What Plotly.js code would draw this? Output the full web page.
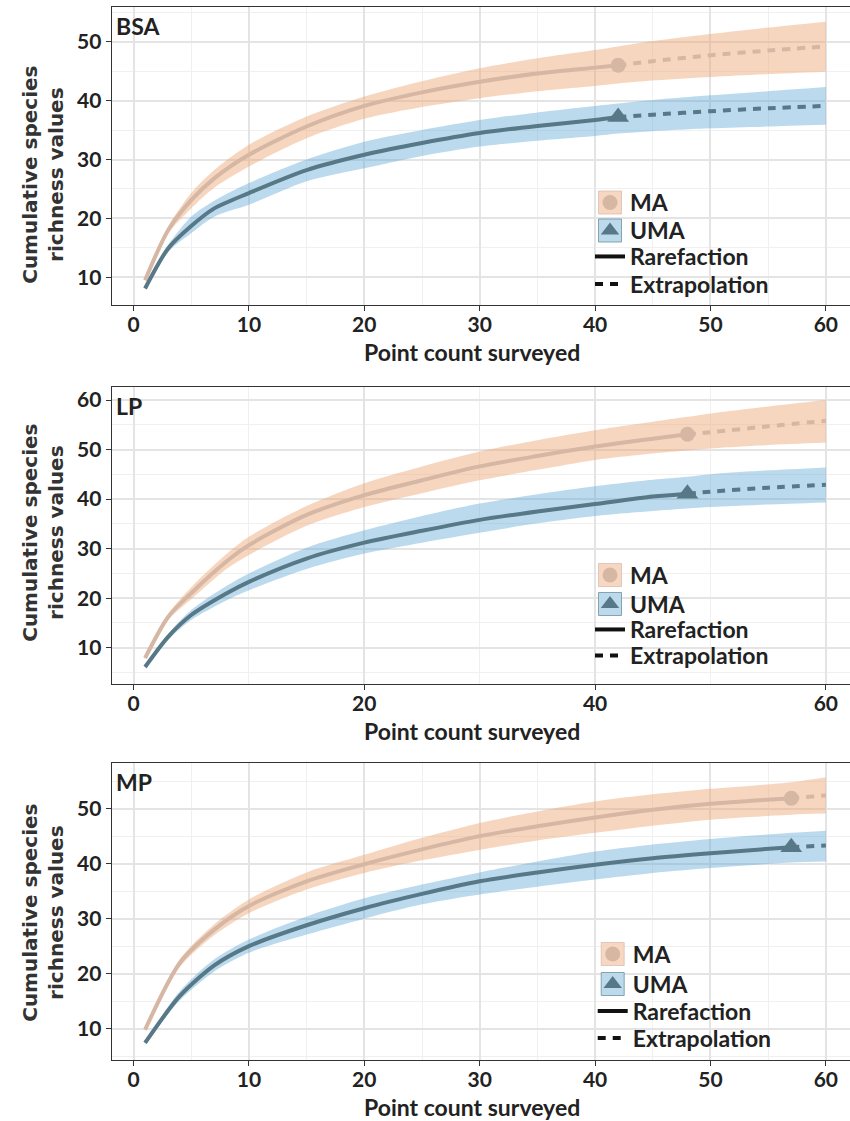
<!DOCTYPE html>
<html><head><meta charset="utf-8">
<script src="https://cdn.plot.ly/plotly-3.0.1.min.js"></script>
<style>html,body{margin:0;padding:0;background:#fff}</style>
</head><body><div id="chart" style="width:850px;height:1121px"></div>
<script>
// ---------------- data ----------------
const panelNames = ['BSA', 'LP', 'MP'];
const groupNames = ['MA', 'UMA'];
const methodNames = ['Rarefaction', 'Extrapolation'];
const xTitle = 'Point count surveyed';
const yTitle = 'Cumulative species<br>richness values';

// BSA
const bsaX      = [1, 3, 5, 7, 10, 15, 20, 25, 30, 35, 40, 42, 45, 50, 55, 60];
const bsaMA     = [9.5, 18.0, 23.1, 26.8, 30.8, 35.6, 39.1, 41.4, 43.2, 44.6, 45.6, 46.0, 46.7, 47.7, 48.5, 49.2];
const bsaMAHi   = [9.8, 18.6, 24.3, 28.2, 32.5, 37.3, 40.7, 43.3, 45.5, 47.2, 48.6, 49.2, 50.1, 51.3, 52.4, 53.4];
const bsaMALo   = [9.3, 17.4, 21.7, 25.2, 28.8, 33.6, 36.9, 38.9, 40.4, 41.6, 42.5, 42.9, 43.4, 44.0, 44.5, 44.9];
const bsaUMA    = [8.1, 14.9, 18.7, 21.7, 24.3, 28.2, 30.8, 32.8, 34.5, 35.7, 36.7, 37.2, 37.6, 38.2, 38.7, 39.1];
const bsaUMAHi  = [8.3, 15.5, 20.3, 23.0, 26.0, 30.0, 33.0, 35.0, 36.7, 38.0, 39.1, 39.5, 40.1, 40.9, 41.6, 42.3];
const bsaUMALo  = [7.9, 14.3, 17.5, 20.3, 22.3, 26.3, 28.5, 30.6, 32.2, 33.2, 34.0, 34.4, 34.8, 35.3, 35.6, 35.9];
const bsaObs    = 42;

// LP
const lpX       = [1, 3, 5, 8, 10, 15, 20, 25, 30, 35, 40, 45, 48, 50, 55, 60];
const lpMA      = [7.9, 16.2, 21.0, 27.3, 30.7, 36.8, 40.8, 43.8, 46.6, 48.7, 50.6, 52.2, 53.1, 53.5, 54.7, 55.8];
const lpMAHi    = [8.1, 16.8, 22.2, 28.8, 32.4, 38.6, 43.2, 46.6, 49.6, 51.9, 53.9, 55.6, 56.6, 57.3, 58.7, 60.0];
const lpMALo    = [7.7, 15.6, 19.8, 25.8, 28.7, 34.6, 38.4, 41.2, 43.8, 45.9, 47.9, 49.2, 49.8, 50.2, 50.9, 51.4];
const lpUMA     = [6.1, 12.2, 16.6, 20.9, 23.3, 28.0, 31.2, 33.6, 35.8, 37.5, 39.0, 40.5, 41.1, 41.5, 42.3, 42.9];
const lpUMAHi   = [6.3, 12.8, 17.6, 22.4, 25.0, 30.2, 33.7, 36.6, 39.1, 41.0, 42.6, 43.9, 44.5, 45.0, 45.8, 46.4];
const lpUMALo   = [5.9, 11.6, 15.6, 19.5, 21.6, 25.9, 29.0, 31.2, 33.2, 35.1, 36.6, 37.6, 38.1, 38.4, 38.9, 39.3];
const lpObs     = 48;

// MP
const mpX       = [1, 4, 7, 10, 15, 20, 25, 30, 35, 40, 45, 50, 57, 60];
const mpMA      = [9.8, 21.9, 28.0, 32.3, 36.8, 39.9, 42.6, 45.0, 46.8, 48.4, 49.8, 50.9, 51.9, 52.4];
const mpMAHi    = [10.0, 22.6, 29.0, 33.5, 38.4, 41.6, 44.7, 47.4, 49.5, 51.3, 52.6, 53.6, 54.8, 55.7];
const mpMALo    = [9.6, 21.2, 27.0, 31.0, 35.3, 38.3, 40.6, 42.5, 44.2, 45.6, 46.9, 48.0, 48.9, 49.1];
const mpUMA     = [7.4, 15.9, 21.5, 25.0, 28.8, 31.9, 34.5, 36.8, 38.4, 39.8, 41.0, 41.9, 43.0, 43.3];
const mpUMAHi   = [7.6, 16.8, 22.6, 26.2, 30.4, 33.7, 36.2, 38.4, 40.4, 42.2, 43.5, 44.5, 45.6, 46.0];
const mpUMALo   = [7.2, 15.1, 20.4, 23.8, 27.1, 30.0, 32.6, 34.4, 35.8, 37.1, 38.3, 39.2, 40.2, 40.4];
const mpObs     = 57;

// ---------------- styling / layout ----------------
const FIG_W = 850, FIG_H = 1121;
const MA_LINE = '#d5b7a4', MA_FILL = 'rgba(238,165,115,0.45)';
const UMA_LINE = '#567887', UMA_FILL = 'rgba(95,168,212,0.42)';
const TXT = '#222222';
const LATO = 'Lato, "Open Sans", sans-serif';

const panels = [
  {x: bsaX, ma: bsaMA, maHi: bsaMAHi, maLo: bsaMALo, uma: bsaUMA, umaHi: bsaUMAHi, umaLo: bsaUMALo, obs: bsaObs},
  {x: lpX, ma: lpMA, maHi: lpMAHi, maLo: lpMALo, uma: lpUMA, umaHi: lpUMAHi, umaLo: lpUMALo, obs: lpObs},
  {x: mpX, ma: mpMA, maHi: mpMAHi, maLo: mpMALo, uma: mpUMA, umaHi: mpUMAHi, umaLo: mpUMALo, obs: mpObs}
];

const plotLeftPx = 111.7;
const panelPx = [[7.3, 305], [386.7, 684], [763, 1059.7]];
const yRanges = [[5.30, 55.84], [2.67, 62.69], [4.36, 58.3]];
const xRange = [-1.89, 62.09];
const xDticks = [10, 20, 10];
const legendLeftPx = [590, 590, 592.7];
const legendCenterPx = [[202.5, 230.5, 256.5, 284], [575, 604, 629.5, 655.5], [954, 984, 1011, 1038]];
const xTitleCenterPx = [[471.5, 352], [471.5, 731], [471.5, 1106.5]];
const yTitleCenterPx = [[42.8, 175], [42.8, 533], [42.8, 913]];

const traces = [];
const layout = {
  width: FIG_W, height: FIG_H,
  margin: {l: 0, r: 0, t: 0, b: 0},
  paper_bgcolor: '#ffffff', plot_bgcolor: '#ffffff',
  showlegend: true,
  font: {family: LATO, color: TXT},
  annotations: [], shapes: []
};

function split(xs, ys, obs, keepLE) {
  const ox = [], oy = [];
  xs.forEach((v, i) => { if (keepLE ? v <= obs : v >= obs) { ox.push(v); oy.push(ys[i]); } });
  return {x: ox, y: oy};
}

panels.forEach((p, i) => {
  const s = i === 0 ? '' : String(i + 1);
  const xa = 'x' + s, ya = 'y' + s;
  const common = {xaxis: xa, yaxis: ya, showlegend: false, hoverinfo: 'skip'};

  // ribbons (lower bound, then upper bound filled to it)
  [[p.maHi, p.maLo, MA_FILL], [p.umaHi, p.umaLo, UMA_FILL]].forEach(([hi, lo, fc]) => {
    traces.push(Object.assign({type: 'scatter', mode: 'lines', x: p.x, y: lo,
      line: {width: 0, shape: 'spline', smoothing: 0.8}}, common));
    traces.push(Object.assign({type: 'scatter', mode: 'lines', x: p.x, y: hi,
      fill: 'tonexty', fillcolor: fc,
      line: {width: 0, shape: 'spline', smoothing: 0.8}}, common));
  });

  // lines
  [[p.ma, MA_LINE], [p.uma, UMA_LINE]].forEach(([ys, col]) => {
    const r = split(p.x, ys, p.obs, true);
    const e = split(p.x, ys, p.obs, false);
    traces.push(Object.assign({type: 'scatter', mode: 'lines', x: r.x, y: r.y,
      line: {color: col, width: 4, shape: 'spline', smoothing: 0.8}}, common));
    traces.push(Object.assign({type: 'scatter', mode: 'lines', x: e.x, y: e.y,
      line: {color: col, width: 4, dash: '8px,7px', shape: 'spline', smoothing: 0.8}}, common));
  });

  // observed points
  const io = p.x.indexOf(p.obs);
  traces.push(Object.assign({type: 'scatter', mode: 'markers', x: [p.obs], y: [p.ma[io]],
    marker: {symbol: 'circle', size: 15, color: MA_LINE}}, common));
  traces.push(Object.assign({type: 'scatter', mode: 'markers', x: [p.obs], y: [p.uma[io]],
    marker: {symbol: 'triangle-up', size: 19, color: UMA_LINE}}, common));

  // legend entries (one legend per entry so spacing matches)
  const legendDefs = [
    {name: groupNames[0], mode: 'markers', marker: {symbol: 'circle', size: 15, color: MA_LINE}},
    {name: groupNames[1], mode: 'markers', marker: {symbol: 'triangle-up', size: 16, color: UMA_LINE}},
    {name: methodNames[0], mode: 'lines', line: {color: '#111111', width: 4}},
    {name: methodNames[1], mode: 'lines', line: {color: '#111111', width: 4, dash: '8px,7px'}}
  ];
  legendDefs.forEach((d, j) => {
    const n = i * 4 + j + 1;
    const lid = n === 1 ? 'legend' : 'legend' + n;
    traces.push(Object.assign({type: 'scatter', x: [null], y: [null], xaxis: xa, yaxis: ya,
      showlegend: true, legend: lid, hoverinfo: 'skip'}, d));
    layout[lid] = {
      x: legendLeftPx[i] / FIG_W, y: 1 - legendCenterPx[i][j] / FIG_H,
      xanchor: 'left', yanchor: 'middle',
      bgcolor: 'rgba(0,0,0,0)', borderwidth: 0, itemwidth: 30,
      font: {family: LATO, size: 23, color: TXT, weight: 'bold'}
    };
    if (j < 2) {
      const cx = legendLeftPx[i] + 20, cy = legendCenterPx[i][j];
      layout.shapes.push({type: 'rect', xref: 'paper', yref: 'paper', layer: 'above',
        x0: (cx - 11.5) / FIG_W, x1: (cx + 11.5) / FIG_W,
        y0: 1 - (cy + 11.5) / FIG_H, y1: 1 - (cy - 11.5) / FIG_H,
        fillcolor: j === 0 ? 'rgb(247,215,193)' : 'rgb(188,218,236)',
        line: {color: j === 0 ? 'rgba(213,184,165,0.7)' : 'rgba(110,145,160,0.8)', width: 1}});
    }
  });

  const [top, bot] = panelPx[i];
  layout['xaxis' + s] = {
    domain: [plotLeftPx / FIG_W, 1], anchor: ya, range: xRange,
    dtick: xDticks[i], tick0: 0,
    showline: true, mirror: true, linecolor: '#333333', linewidth: 1.3,
    ticks: 'outside', ticklen: 5, tickwidth: 1.3, tickcolor: '#333333',
    ticklabelstandoff: -4,
    showgrid: true, gridcolor: '#e4e4e4', gridwidth: 1.5, zeroline: false,
    minor: {dtick: xDticks[i] / 2, showgrid: true, gridcolor: '#f0f0f0', gridwidth: 1},
    tickfont: {family: LATO, size: 21, color: TXT, weight: 'bold'}
  };
  layout['yaxis' + s] = {
    domain: [1 - bot / FIG_H, 1 - top / FIG_H], anchor: xa, range: yRanges[i],
    dtick: 10, tick0: 0,
    showline: true, mirror: false, linecolor: '#333333', linewidth: 1.3,
    ticks: 'outside', ticklen: 5, tickwidth: 1.3, tickcolor: '#333333',
    showgrid: true, gridcolor: '#e4e4e4', gridwidth: 1.5, zeroline: false,
    minor: {dtick: 5, showgrid: true, gridcolor: '#f0f0f0', gridwidth: 1},
    tickfont: {family: LATO, size: 21, color: TXT, weight: 'bold'}
  };

  // panel label
  layout.annotations.push({
    text: panelNames[i], xref: xa + ' domain', yref: ya + ' domain', x: 0, y: 1,
    xanchor: 'left', yanchor: 'top', xshift: 2, yshift: -3, showarrow: false,
    font: {family: LATO, size: 23, color: TXT, weight: 'bold'}
  });
  // axis titles
  layout.annotations.push({
    text: xTitle, xref: 'paper', yref: 'paper',
    x: xTitleCenterPx[i][0] / FIG_W, y: 1 - xTitleCenterPx[i][1] / FIG_H,
    xanchor: 'center', yanchor: 'middle', showarrow: false,
    font: {family: LATO, size: 23, color: TXT, weight: 'bold'}
  });
  layout.annotations.push({
    text: yTitle, xref: 'paper', yref: 'paper', textangle: -90,
    x: yTitleCenterPx[i][0] / FIG_W, y: 1 - yTitleCenterPx[i][1] / FIG_H,
    xanchor: 'center', yanchor: 'middle', showarrow: false,
    font: {family: '"DejaVu Sans", Verdana, sans-serif', size: 20, color: '#333333', weight: 'bold'}
  });
});

Plotly.newPlot('chart', traces, layout, {displayModeBar: false, responsive: false});
</script>
</body></html>
